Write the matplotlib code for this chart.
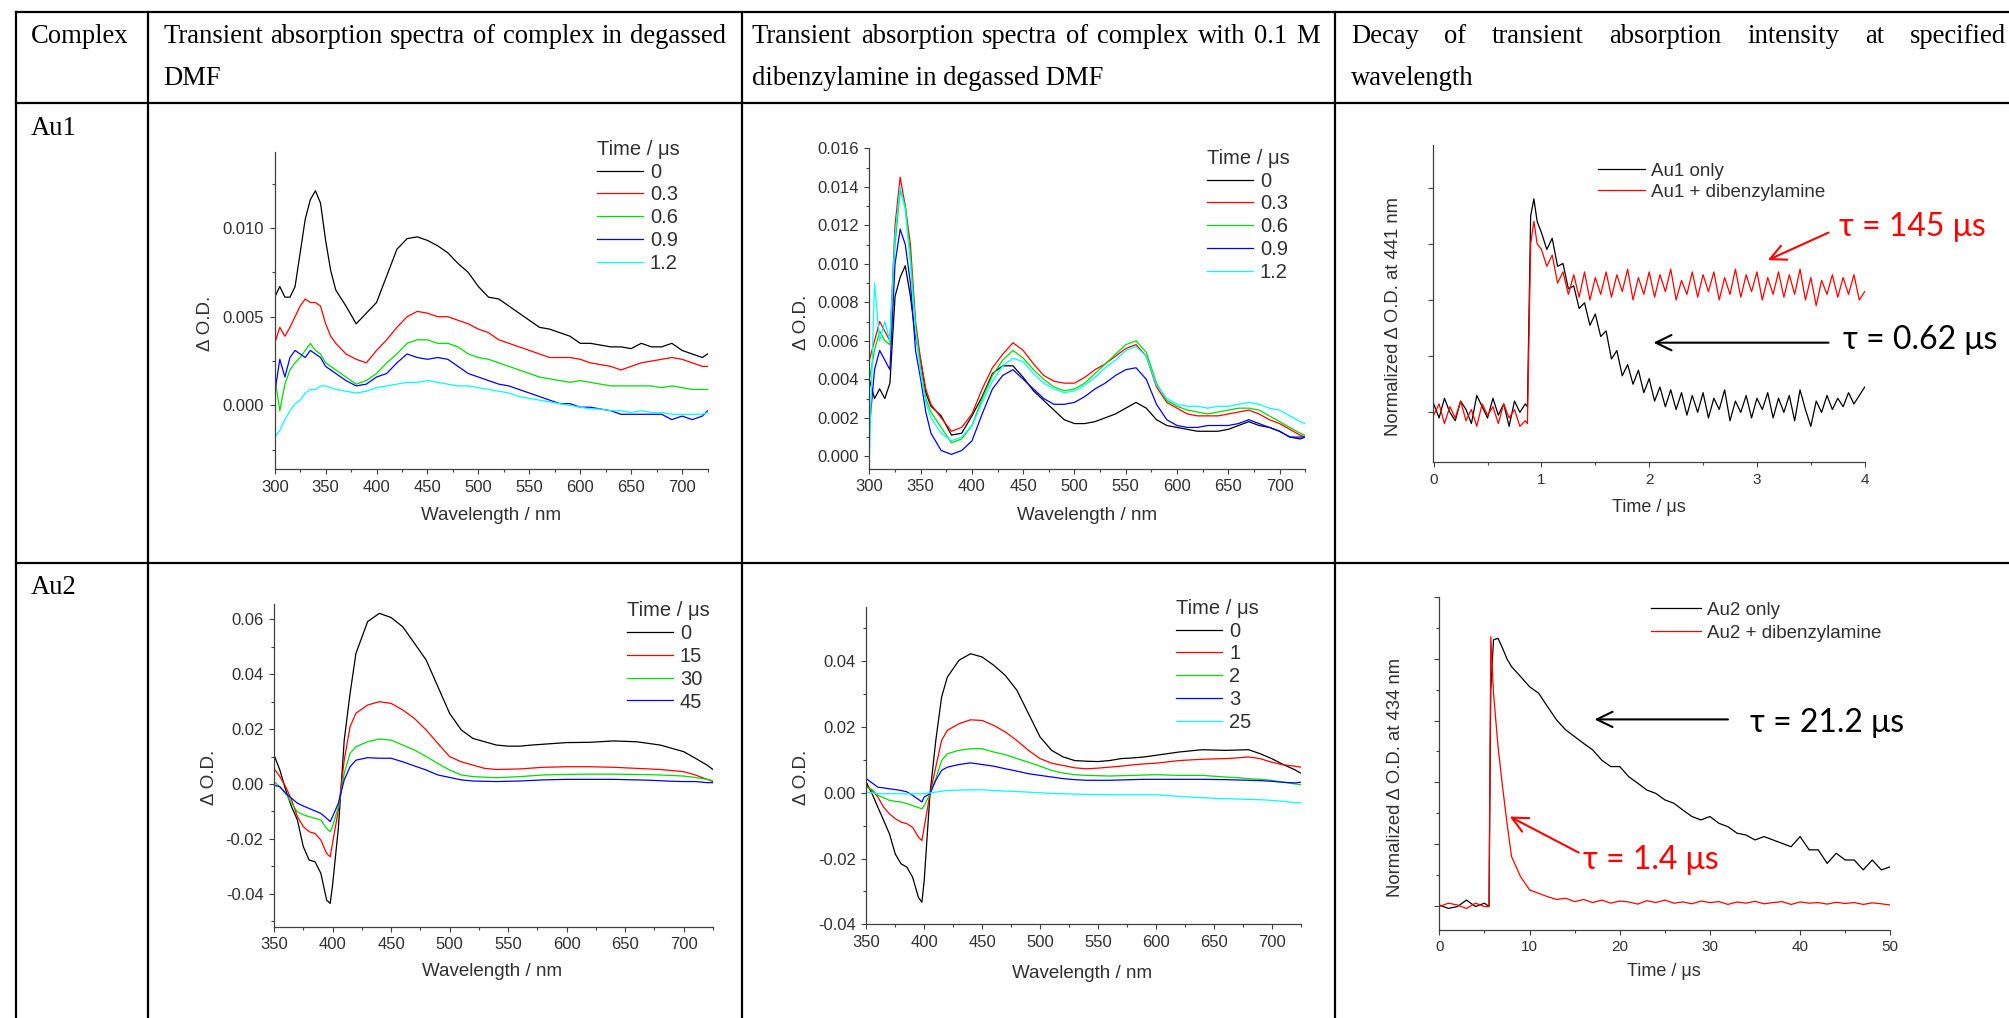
import matplotlib
matplotlib.use("Agg")
import matplotlib.pyplot as plt
from matplotlib.lines import Line2D
from matplotlib.ticker import MultipleLocator, FormatStrFormatter, NullFormatter

plt.rcParams["font.family"] = ["Liberation Sans", "DejaVu Sans"]
plt.rcParams["axes.unicode_minus"] = False

W, H = 2009, 1018
SERIES_COLORS = ["black", "red", "#00dd00", "blue", "cyan"]
AXIS_COLOR = "#404040"
TEXT_COLOR = "#303030"
TAU_FONT = ["Lato", "Noto Sans", "DejaVu Sans"]

# ---- Au1 spectra (wavelength / nm, delta OD) ----
WL_AU1 = [300, 305, 310, 315, 320, 325, 330, 335, 340, 345, 350, 355, 360,
          370, 380, 390, 400, 410, 420, 430, 440, 450, 460, 470, 480, 490, 500,
          510, 520, 530, 540, 550, 560, 570, 580, 590, 600, 610, 620, 630, 640,
          650, 660, 670, 680, 690, 700, 710, 720, 725]
AU1_TIMES = ["0", "0.3", "0.6", "0.9", "1.2"]
AU1_DMF = [
    [.0061, .0067, .0061, .0061, .0067, .0086, .0105, .0116, .0121, .0114, .0093, .0076, .0065,
     .0056, .0046, .0052, .0058, .0073, .0088, .0094, .0095, .0093, .0090, .0086, .0080, .0075, .0067,
     .0061, .0060, .0056, .0052, .0048, .0044, .0043, .0041, .0039, .0035, .0035, .0034, .0033, .0033,
     .0032, .0035, .0033, .0033, .0035, .0031, .0029, .0027, .0029],
    [.0035, .0044, .0039, .0044, .0050, .0056, .0060, .0058, .0058, .0056, .0046, .0039, .0035,
     .0029, .0026, .0024, .0031, .0037, .0044, .0050, .0053, .0052, .0050, .0050, .0048, .0046, .0043,
     .0041, .0037, .0035, .0033, .0031, .0029, .0027, .0027, .0027, .0026, .0024, .0023, .0022, .0020,
     .0022, .0024, .0025, .0026, .0027, .0026, .0024, .0022, .0022],
    [.0016, -.0003, .0012, .0020, .0024, .0027, .0031, .0035, .0031, .0029, .0024, .0022, .0020,
     .0016, .0012, .0014, .0018, .0024, .0029, .0035, .0037, .0037, .0035, .0035, .0033, .0029, .0027,
     .0026, .0024, .0022, .0020, .0018, .0016, .0015, .0014, .0013, .0014, .0013, .0012, .0011, .0011,
     .0011, .0011, .0011, .0010, .0011, .0010, .0009, .0009, .0009],
    [.0007, .0026, .0016, .0027, .0031, .0029, .0027, .0031, .0029, .0027, .0022, .0020, .0018,
     .0014, .0011, .0012, .0016, .0018, .0024, .0029, .0027, .0026, .0027, .0026, .0022, .0018, .0016,
     .0014, .0012, .0011, .0009, .0007, .0005, .0003, .0001, .0001, -.0001, -.0001, -.0002, -.0003, -.0005,
     -.0005, -.0005, -.0005, -.0005, -.0008, -.0006, -.0008, -.0006, -.0003],
    [-.0018, -.0014, -.0008, -.0003, .0001, .0003, .0007, .0009, .0009, .0011, .0011, .0010, .0009,
     .0008, .0007, .0008, .0010, .0011, .0012, .0013, .0013, .0014, .0013, .0012, .0011, .0011, .0010,
     .0009, .0008, .0007, .0005, .0004, .0003, .0002, .0001, .0000, -.0001, -.0002, -.0002, -.0003, -.0003,
     -.0004, -.0003, -.0004, -.0004, -.0005, -.0005, -.0005, -.0005, -.0004],
]
AU1_AMINE = [
    [.0040, .0030, .0035, .0030, .0038, .0083, .0093, .0099, .0083, .0062, .0050, .0033, .0026,
     .0021, .0011, .0012, .0021, .0031, .0043, .0047, .0047, .0041, .0034, .0029, .0024, .0019, .0017,
     .0017, .0018, .0020, .0022, .0025, .0028, .0025, .0019, .0016, .0015, .0014, .0013, .0013, .0013,
     .0014, .0016, .0018, .0016, .0015, .0013, .0010, .0009, .0010],
    [.0050, .0060, .0070, .0065, .0060, .0120, .0145, .0130, .0110, .0070, .0050, .0035, .0027,
     .0020, .0013, .0015, .0022, .0035, .0046, .0053, .0059, .0055, .0048, .0042, .0039, .0038, .0038,
     .0041, .0045, .0048, .0052, .0056, .0058, .0052, .0036, .0028, .0025, .0022, .0021, .0021, .0021,
     .0022, .0023, .0024, .0022, .0019, .0017, .0014, .0011, .0010],
    [.0040, .0055, .0065, .0060, .0058, .0110, .0138, .0130, .0105, .0068, .0045, .0030, .0023,
     .0015, .0007, .0009, .0016, .0030, .0042, .0050, .0055, .0051, .0045, .0040, .0036, .0034, .0035,
     .0038, .0043, .0048, .0053, .0058, .0060, .0054, .0038, .0029, .0026, .0024, .0023, .0022, .0023,
     .0024, .0025, .0025, .0024, .0021, .0018, .0015, .0012, .0011],
    [.0015, .0045, .0055, .0050, .0045, .0100, .0118, .0110, .0090, .0055, .0040, .0023, .0012,
     .0003, .0001, .0003, .0008, .0022, .0035, .0042, .0045, .0040, .0035, .0030, .0027, .0027, .0028,
     .0031, .0035, .0038, .0042, .0045, .0046, .0040, .0027, .0019, .0016, .0015, .0015, .0016, .0016,
     .0016, .0017, .0019, .0017, .0015, .0013, .0010, .0010, .0010],
    [.0000, .0090, .0060, .0070, .0060, .0115, .0140, .0128, .0100, .0065, .0043, .0028, .0020,
     .0012, .0008, .0010, .0016, .0028, .0039, .0047, .0051, .0049, .0043, .0038, .0035, .0033, .0034,
     .0037, .0041, .0046, .0050, .0055, .0057, .0052, .0037, .0030, .0027, .0026, .0026, .0025, .0026,
     .0026, .0027, .0028, .0027, .0025, .0024, .0021, .0018, .0017],
]

# ---- Au2 spectra ----
WL_AU2 = [350, 355, 360, 365, 370, 375, 380, 385, 390, 395, 398, 400, 405, 410, 415, 420,
          430, 440, 450, 460, 470, 480, 490, 500, 510, 520, 530, 540, 550, 560, 570, 580,
          590, 600, 620, 640, 660, 670, 680, 690, 700, 710, 720, 725]
AU2_DMF_TIMES = ["0", "15", "30", "45"]
AU2_DMF = [
    [.0106, .0051, -.0022, -.0083, -.0131, -.0228, -.0277, -.0283, -.0325, -.0423, -.0435, -.0370, -.0160,
     .0160, .0330, .0476, .0592, .0622, .0607, .0573, .0513, .0452, .0355, .0258, .0197, .0166, .0154,
     .0142, .0138, .0138, .0142, .0145, .0148, .0151, .0152, .0157, .0154, .0148, .0142, .0130, .0118,
     .0094, .0069, .0053],
    [.0057, .0027, -.0010, -.0058, -.0119, -.0155, -.0174, -.0180, -.0204, -.0253, -.0265, -.0216, -.0095,
     .0087, .0209, .0258, .0288, .0300, .0294, .0270, .0239, .0197, .0148, .0100, .0081, .0069, .0057,
     .0053, .0054, .0055, .0058, .0061, .0062, .0063, .0063, .0061, .0057, .0055, .0053, .0049, .0045,
     .0033, .0017, .0009],
    [.0009, -.0010, -.0034, -.0070, -.0101, -.0112, -.0119, -.0125, -.0131, -.0162, -.0174, -.0155, -.0083,
     .0039, .0112, .0136, .0154, .0164, .0160, .0142, .0124, .0100, .0075, .0051, .0033, .0027, .0025,
     .0023, .0025, .0027, .0030, .0033, .0034, .0035, .0036, .0036, .0035, .0034, .0033, .0031, .0029,
     .0024, .0017, .0012],
    [-.0004, -.0010, -.0034, -.0052, -.0070, -.0080, -.0089, -.0098, -.0107, -.0125, -.0137, -.0119, -.0070,
     .0015, .0063, .0087, .0096, .0094, .0094, .0081, .0066, .0051, .0033, .0024, .0015, .0011, .0010,
     .0009, .0010, .0011, .0013, .0015, .0016, .0017, .0017, .0017, .0015, .0014, .0012, .0010, .0009,
     .0009, .0005, .0005],
]
AU2_AMINE_TIMES = ["0", "1", "2", "3", "25"]
AU2_AMINE = [
    [.0032, -.0003, -.0044, -.0084, -.0125, -.0186, -.0216, -.0226, -.0257, -.0318, -.0333, -.0267, -.0003,
     .0159, .0291, .0352, .0403, .0423, .0413, .0388, .0357, .0312, .0241, .0170, .0129, .0109, .0098,
     .0096, .0095, .0098, .0104, .0106, .0109, .0114, .0124, .0131, .0129, .0130, .0131, .0119, .0104,
     .0086, .0070, .0060],
    [.0022, .0007, -.0013, -.0044, -.0064, -.0079, -.0089, -.0094, -.0105, -.0135, -.0145, -.0105, -.0003,
     .0078, .0159, .0190, .0210, .0222, .0220, .0205, .0185, .0159, .0129, .0104, .0090, .0083, .0076,
     .0073, .0075, .0078, .0081, .0085, .0088, .0090, .0098, .0102, .0104, .0106, .0109, .0104, .0093,
     .0085, .0081, .0078],
    [.0017, .0010, -.0008, -.0015, -.0023, -.0026, -.0028, -.0033, -.0039, -.0045, -.0049, -.0039, -.0003,
     .0043, .0098, .0119, .0129, .0134, .0134, .0124, .0116, .0104, .0093, .0081, .0068, .0060, .0055,
     .0053, .0052, .0051, .0052, .0053, .0054, .0055, .0053, .0053, .0048, .0046, .0043, .0041, .0038,
     .0032, .0027, .0025],
    [.0043, .0030, .0017, .0015, .0012, .0010, .0007, .0003, -.0008, -.0020, -.0028, -.0013, -.0003,
     .0038, .0068, .0078, .0086, .0091, .0086, .0081, .0073, .0066, .0058, .0053, .0048, .0043, .0040,
     .0038, .0038, .0038, .0039, .0040, .0041, .0041, .0041, .0041, .0040, .0039, .0038, .0037, .0035,
     .0032, .0030, .0032],
    [.0002, .0000, -.0003, -.0003, -.0003, -.0003, -.0003, -.0003, -.0003, -.0003, -.0003, -.0003, .0000,
     .0002, .0005, .0007, .0008, .0009, .0009, .0007, .0005, .0004, .0002, .0000, -.0002, -.0003, -.0004,
     -.0005, -.0005, -.0006, -.0006, -.0006, -.0006, -.0006, -.0011, -.0015, -.0018, -.0019, -.0020, -.0021,
     -.0023, -.0026, -.0030, -.0030],
]

# ---- decay traces (normalized) ----
# sampling times: 0-0.85 every 0.05, the jump, then 1.00-4.00 every 0.05
T_AU1 = ([round(0.05 * i, 2) for i in range(18)] + [0.87, 0.9, 0.93, 0.96]
         + [round(1 + 0.05 * i, 2) for i in range(61)])
AU1_ONLY = [.03, -.02, .05, .00, -.03, .04, .01, -.04, .06, .02, -.02, .05, -.01, .03, -.05, .04, .00, .03,
            .02, .70, .76, .68,
            .64, .58, .62, .52, .53, .44, .45, .37, .39, .31, .35, .27, .29, .19, .22, .13, .17, .10, .15, .07,
            .12, .04, .09, .02, .08, .01, .07, -.01, .06, .00, .07, -.02, .05, .01, .08, -.03, .04, .00, .06,
            -.02, .05, .01, .07, -.02, .05, .00, .06, -.03, .08, .01, -.05, .04, .00, .06, .01, .05, .02, .07,
            .03, .06, .09]
AU1_WITH_AMINE = [-.01, .03, -.04, .02, -.02, .04, -.03, .01, -.05, .03, -.01, .02, -.04, .03, -.02, .01, -.05, -.03,
                  -.04, .60, .68, .60,
                  .58, .52, .56, .46, .50, .42, .49, .41, .50, .40, .48, .42, .50, .41, .49, .43, .51, .40, .48, .42,
                  .50, .41, .49, .43, .51, .40, .47, .42, .50, .41, .49, .43, .50, .40, .48, .42, .51, .41, .49, .43,
                  .50, .40, .48, .42, .50, .41, .49, .42, .51, .40, .48, .38, .47, .42, .49, .41, .48, .42, .49, .40,
                  .43]
T_AU2 = [0, 1, 2, 3, 4, 5, 5.5, 5.7, 6, 6.5, 7, 7.5, 8,
         9, 10, 11, 12, 13, 14, 15, 16, 17, 18, 19, 20, 21, 22, 23, 24, 25, 26, 27, 28, 29,
         30, 31, 32, 33, 34, 35, 36, 37, 38, 39, 40, 41, 42, 43, 44, 45, 46, 47, 48, 49, 50]
AU2_ONLY = [.002, -.009, -.003, .018, -.003, .008, -.003, .70, .862, .867, .835, .80, .775,
            .743, .710, .689, .645, .602, .570, .548, .526, .505, .472, .451, .451, .418, .397,
            .375, .364, .343, .332, .310, .289, .278, .289, .267, .256, .235, .229, .213, .224,
            .213, .202, .191, .224, .181, .181, .137, .170, .148, .148, .116, .148, .116, .126]
AU2_WITH_AMINE = [-.003, .008, .002, -.009, .008, -.003, -.003, .872, .689, .516, .386, .267, .159,
                  .094, .051, .040, .029, .020, .024, .013, .020, .010, .018, .008, .015, .012, .005,
                  .016, .010, .018, .008, .012, .006, .015, .010, .013, .004, .012, .008, .014, .006,
                  .010, .013, .004, .012, .008, .010, .005, .011, .007, .010, .004, .009, .006, .002]

fig = plt.figure(figsize=(W / 100, H / 100), dpi=100)


def fx(px):
    return px / W


def fy(py):
    return 1 - py / H


def add_axes(box):
    left, top, right, bottom = box
    ax = fig.add_axes([fx(left), fy(bottom), (right - left) / W, (bottom - top) / H])
    ax.patch.set_alpha(0)
    for side in ("top", "right"):
        ax.spines[side].set_visible(False)
    for side in ("left", "bottom"):
        ax.spines[side].set_color(AXIS_COLOR)
        ax.spines[side].set_linewidth(0.9)
    ax.tick_params(which="both", direction="out", color=AXIS_COLOR, width=0.8,
                   labelcolor=TEXT_COLOR, labelsize=12)
    ax.tick_params(which="major", length=3.5, pad=4)
    ax.tick_params(which="minor", length=2)
    return ax


def set_labels(ax, box, xlabel, ylabel, xpos, ypos, xsize=13.5, ysize=13.5):
    left, top, right, bottom = box
    ax.set_xlabel(xlabel, fontsize=xsize, color=TEXT_COLOR)
    ax.set_ylabel(ylabel, fontsize=ysize, color=TEXT_COLOR)
    ax.xaxis.set_label_coords((xpos[0] - left) / (right - left), (bottom - xpos[1]) / (bottom - top))
    ax.yaxis.set_label_coords((ypos[0] - left) / (right - left), (bottom - ypos[1]) / (bottom - top))
    ax.xaxis.label.set_va("center")
    ax.yaxis.label.set_va("center")


def add_legend(ax, anchor, title=None, size=14.5, spacing=0.19, handlelength=2.28, textpad=0.35):
    leg = ax.legend(loc="upper left", bbox_to_anchor=(fx(anchor[0]), fy(anchor[1])),
                    bbox_transform=fig.transFigure, frameon=False, fontsize=size,
                    title=title, title_fontsize=size, alignment="left", borderpad=0,
                    borderaxespad=0, handlelength=handlelength, handletextpad=textpad,
                    labelspacing=spacing, labelcolor=TEXT_COLOR)
    if title:
        leg.get_title().set_color(TEXT_COLOR)
    return leg


def spectra_panel(box, wl, curves, labels, xlim, ylim, xstep, ystep, yfmt, legend_at, xlab, ylab):
    ax = add_axes(box)
    for vals, lab, col in zip(curves, labels, SERIES_COLORS):
        ax.plot(wl, vals, color=col, lw=0.9, label=lab)
    ax.set_xlim(*xlim)
    ax.set_ylim(*ylim)
    ax.xaxis.set_major_locator(MultipleLocator(xstep))
    ax.xaxis.set_minor_locator(MultipleLocator(xstep / 2))
    ax.yaxis.set_major_locator(MultipleLocator(ystep))
    ax.yaxis.set_minor_locator(MultipleLocator(ystep / 2))
    ax.yaxis.set_major_formatter(FormatStrFormatter(yfmt))
    set_labels(ax, box, "Wavelength / nm", "\u0394 O.D.", xlab, ylab)
    add_legend(ax, legend_at, title="Time / \u03bcs")
    return ax


# Au1 in DMF
box1 = (274.7, 151.7, 707.5, 469.3)
spectra_panel(box1, WL_AU1, AU1_DMF, AU1_TIMES, (300, 725), (-0.0036, 0.0143), 50, 0.005, "%.3f",
              (597, 139.8), (491, 515), (205, 323))

# Au1 with dibenzylamine
box2 = (869.4, 148.3, 1305.2, 469.0)
spectra_panel(box2, WL_AU1, AU1_AMINE, AU1_TIMES, (300, 725), (-0.00066, 0.016), 50, 0.002, "%.3f",
              (1207, 148.8), (1087, 515), (801, 322))

# Au2 in DMF
box4 = (274.0, 604.3, 712.9, 926.7)
spectra_panel(box4, WL_AU2, AU2_DMF, AU2_DMF_TIMES, (350, 725), (-0.052, 0.0655), 50, 0.02, "%.2f",
              (626.8, 601.2), (492, 972), (209, 777))

# Au2 with dibenzylamine
box5 = (866.3, 606.7, 1300.6, 924.3)
spectra_panel(box5, WL_AU2, AU2_AMINE, AU2_AMINE_TIMES, (350, 725), (-0.04, 0.0566), 50, 0.02, "%.2f",
              (1176.3, 598.8), (1082.5, 974), (801, 777))


def decay_panel(box, t, only, amine, names, xlim, ylim, xstep, ystep, ytick_minor, ylab_text, xlab, ylab,
                legend_at, spacing, handlelength):
    ax = add_axes(box)
    ax.plot(t, only, color="black", lw=0.9, label=names[0])
    ax.plot(t, amine, color="red", lw=0.9, label=names[1])
    ax.set_xlim(*xlim)
    ax.set_ylim(*ylim)
    ax.xaxis.set_major_locator(MultipleLocator(xstep))
    ax.xaxis.set_minor_locator(MultipleLocator(xstep / 2))
    ax.yaxis.set_major_locator(MultipleLocator(ystep))
    if ytick_minor:
        ax.yaxis.set_minor_locator(MultipleLocator(ystep / 2))
    ax.yaxis.set_major_formatter(NullFormatter())
    ax.tick_params(axis="x", labelsize=11)
    set_labels(ax, box, "Time / \u03bcs", ylab_text, xlab, ylab, xsize=13, ysize=13.3)
    add_legend(ax, legend_at, size=13.5, spacing=spacing, handlelength=handlelength, textpad=0.34)
    return ax


def tau_note(ax, text, color, text_at, tail, tip):
    ax.text(text_at[0], text_at[1], text, color=color, fontsize=23, family=TAU_FONT,
            ha="left", va="center", clip_on=False)
    ax.annotate("", xy=tip, xytext=tail, annotation_clip=False,
                arrowprops=dict(arrowstyle="->,head_length=0.45,head_width=0.22", mutation_scale=25,
                                lw=1.5, color=color, shrinkA=0, shrinkB=0))


box3 = (1432.6, 145.0, 1864.7, 462.3)
ax3 = decay_panel(box3, T_AU1, AU1_ONLY, AU1_WITH_AMINE, ["Au1 only", "Au1 + dibenzylamine"],
                  (-0.01, 4.0), (-0.178, 0.952), 1, 0.2, False,
                  "Normalized \u0394 O.D. at 441 nm", (1649, 508), (1393, 317), (1598, 162.9), 0.2, 2.5)
tau_note(ax3, "\u03c4 = 145 \u03bcs", "red", (3.76, 0.66), (3.664, 0.640), (3.10, 0.542))
tau_note(ax3, "\u03c4 = 0.62 \u03bcs", "black", (3.80, 0.257), (3.664, 0.248), (2.04, 0.248))

box6 = (1439.4, 597.3, 1890.3, 930.0)
ax6 = decay_panel(box6, T_AU2, AU2_ONLY, AU2_WITH_AMINE, ["Au2 only", "Au2 + dibenzylamine"],
                  (0, 50), (-0.079, 1.0), 10, 0.2, True,
                  "Normalized \u0394 O.D. at 434 nm", (1664, 972), (1395, 777), (1651.4, 601.9), 0.29, 2.62)
tau_note(ax6, "\u03c4 = 21.2 \u03bcs", "black", (34.4, 0.591), (32.0, 0.604), (17.2, 0.604))
tau_note(ax6, "\u03c4 = 1.4 \u03bcs", "red", (15.9, 0.148), (15.45, 0.172), (7.8, 0.289))

# ---- table frame ----
TABLE_LW = 1.6
for y in (12.3, 103.3, 563.3):
    fig.add_artist(Line2D([fx(15.7), fx(W)], [fy(y), fy(y)], transform=fig.transFigure,
                          color="black", lw=TABLE_LW, solid_capstyle="projecting"))
for x in (15.7, 147.7, 742.0, 1335.2):
    fig.add_artist(Line2D([fx(x), fx(x)], [fy(12.3), fy(H)], transform=fig.transFigure,
                          color="black", lw=TABLE_LW, solid_capstyle="projecting"))

HEAD_SIZE = 19.2
HEAD_FONT = ["Liberation Serif", "DejaVu Serif"]
renderer = fig.canvas.get_renderer()


def cell_text(text, x, y):
    fig.text(fx(x), fy(y), text, fontsize=HEAD_SIZE, family=HEAD_FONT, va="baseline", ha="left")


def justified(text, x0, x1, y):
    words = text.split()
    parts = [fig.text(0, 0, w, fontsize=HEAD_SIZE, family=HEAD_FONT, va="baseline", ha="left")
             for w in words]
    widths = [p.get_window_extent(renderer).width for p in parts]
    gap = (x1 - x0 - sum(widths)) / (len(words) - 1)
    x = x0
    for p, w in zip(parts, widths):
        p.set_position((fx(x), fy(y)))
        x += w + gap


cell_text("Complex", 30.7, 43.3)
justified("Transient absorption spectra of complex in degassed", 163.3, 726, 43.3)
cell_text("DMF", 163.3, 85)
justified("Transient absorption spectra of complex with 0.1 M", 752, 1320, 43.3)
cell_text("dibenzylamine in degassed DMF", 752, 85)
justified("Decay of transient absorption intensity at specified", 1350.8, 2005.6, 43.3)
cell_text("wavelength", 1350.8, 85)
cell_text("Au1", 30.7, 135)
cell_text("Au2", 30.7, 594)

fig.savefig("out.png", dpi=100)
